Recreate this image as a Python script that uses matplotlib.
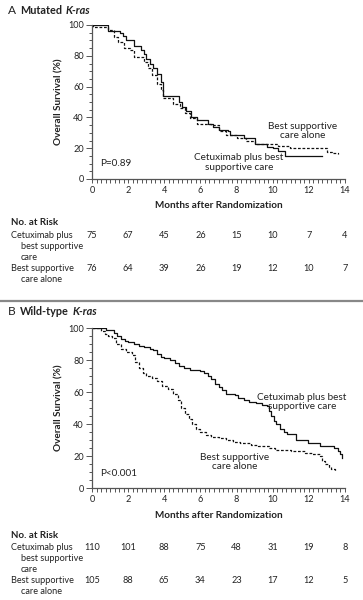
import numpy as np
import matplotlib as mpl
mpl.use('agg')
import matplotlib.pyplot as plt
from matplotlib.ticker import MultipleLocator

plt.rcParams['font.family'] = ['Lato', 'DejaVu Sans']

W, H = 363, 600

# panel A: mutated K-ras (Kaplan-Meier steps)
a_cet_t = [0, 0.9, 1.55, 1.7, 1.9, 2.3, 2.7, 2.85, 3.0, 3.2, 3.4, 3.6, 3.8, 3.95, 4.8, 5.0, 5.2, 5.5, 5.8, 6.4, 6.7, 7.0, 7.5, 7.65, 8.4, 9.0, 9.7, 10.0, 10.3, 10.7, 12.7]
a_cet_s = [100, 96, 95, 93, 90, 86.5, 84, 81, 78, 75, 72, 68, 63, 54, 50, 47, 44, 40, 38, 36, 34, 32, 31, 28.5, 26.5, 23, 21, 20, 18, 15, 15]
a_bsc_t = [0, 0.05, 0.9, 1.2, 1.45, 1.75, 2.1, 2.3, 2.85, 3.1, 3.3, 3.6, 3.8, 3.95, 4.5, 4.85, 5.15, 5.45, 5.8, 6.6, 7.0, 7.4, 8.0, 8.5, 9.0, 9.5, 10.3, 10.95, 13.0, 13.3, 13.6]
a_bsc_s = [100, 98.5, 97, 92.5, 89, 85, 84, 79.5, 76, 72, 67.5, 62, 58, 52.5, 49, 46, 43, 39.5, 36, 35, 31, 28.5, 26.5, 25, 23, 22.5, 21.5, 20, 17.8, 17, 16]

# panel B: wild-type K-ras
b_cet_t = [0, 0.8, 1.2, 1.4, 1.6, 1.8, 2.0, 2.3, 2.6, 2.9, 3.2, 3.4, 3.6, 3.8, 4.0, 4.3, 4.6, 4.8, 5.1, 5.4, 6.0, 6.2, 6.4, 6.6, 6.8, 7.0, 7.2, 7.4, 7.9, 8.1, 8.4, 8.7, 9.1, 9.4, 9.7, 9.8, 9.9, 10.05, 10.2, 10.4, 10.6, 10.8, 11.3, 11.95, 12.6, 13.4, 13.6, 13.75, 13.85]
b_cet_s = [100, 99, 97, 95, 93, 92, 91, 90, 89, 88, 87, 86, 84, 82, 81, 80, 78, 76, 75, 74, 73, 72, 70, 68, 65, 63, 61, 59, 58, 56, 55, 54, 53, 52, 51, 48, 45, 42, 40, 37, 35, 34, 30, 28, 26, 25, 23, 21, 19]
b_bsc_t = [0, 0.5, 0.7, 0.9, 1.1, 1.35, 1.6, 1.9, 2.2, 2.4, 2.6, 2.8, 3.0, 3.3, 3.6, 3.9, 4.2, 4.5, 4.75, 4.95, 5.15, 5.35, 5.55, 5.75, 5.95, 6.3, 6.6, 7.0, 7.4, 7.8, 8.2, 8.8, 9.2, 9.8, 10.1, 11.0, 11.8, 12.2, 12.6, 12.7, 12.9, 13.1, 13.25, 13.45]
b_bsc_s = [100, 98, 96, 95, 94, 90, 87, 85, 83, 79, 75, 72, 70, 69, 67, 64, 62, 59, 55, 50, 46, 43, 40, 37, 35, 33, 32, 31, 30, 29, 28, 27, 26, 25, 24, 23, 22, 21, 20, 17, 15, 13, 12, 10]

risk_months = [0, 2, 4, 6, 8, 10, 12, 14]
a_risk_cet = [75, 67, 45, 26, 15, 10, 7, 4]
a_risk_bsc = [76, 64, 39, 26, 19, 12, 10, 7]
b_risk_cet = [110, 101, 88, 75, 48, 31, 19, 8]
b_risk_bsc = [105, 88, 65, 34, 23, 17, 12, 5]

fig = plt.figure(figsize=(W / 100, H / 100), dpi=100)
fig.patch.set_facecolor('white')

FS = 6.6
TXT = '#222222'


def px(x, y):
    return x / W, 1 - y / H


def put(x, y, s, **kw):
    kw.setdefault('fontsize', FS)
    kw.setdefault('color', TXT)
    kw.setdefault('va', 'center')
    return fig.text(*px(x, y), s, **kw)


def title(y, letter, words):
    # y is the bottom of the text boxes
    put(8, y, letter, fontsize=FS + 2, va='bottom')
    t = put(20, y, words, fontweight='bold', fontsize=FS + 1.2, va='bottom')
    # italic gene name right after the plain words
    fig.axes[-1].annotate('K-ras', xy=(1, 0), xycoords=t, xytext=(2.5, 0),
                          textcoords='offset points', fontsize=FS + 1.2,
                          fontweight='bold', fontstyle='italic', color=TXT,
                          va='bottom', annotation_clip=False)


def panel(top, bot, cet_t, cet_s, bsc_t, bsc_s):
    l, r = 92, 345
    ax = fig.add_axes([l / W, 1 - bot / H, (r - l) / W, (bot - top) / H])
    ax.step(cet_t, cet_s, where='post', color='#111111', lw=0.9)
    ax.step(bsc_t, bsc_s, where='post', color='#111111', lw=0.9,
            linestyle=(0, (2.2, 1.4)))
    ax.set_xlim(0, 14)
    ax.set_ylim(0, 100)
    ax.xaxis.set_major_locator(MultipleLocator(2))
    ax.xaxis.set_minor_locator(MultipleLocator(0.25))
    ax.yaxis.set_major_locator(MultipleLocator(20))
    ax.yaxis.set_minor_locator(MultipleLocator(5))
    for s in ['top', 'right']:
        ax.spines[s].set_visible(False)
    for s in ['left', 'bottom']:
        ax.spines[s].set_color('#555555')
        ax.spines[s].set_linewidth(0.9)
        ax.spines[s].set_clip_on(False)
    ax.tick_params(axis='both', which='both', direction='out', color='#555555',
                   labelsize=FS, labelcolor=TXT, width=0.7, pad=2)
    ax.tick_params(axis='x', which='major', length=3)
    ax.tick_params(axis='x', which='minor', length=3)
    ax.tick_params(axis='y', which='major', length=4)
    ax.tick_params(axis='y', which='minor', length=2.5)
    ax.set_ylabel('Overall Survival (%)', fontsize=FS + 0.6, fontweight='bold',
                  color=TXT, labelpad=3)
    return ax


def risk_table(y0, risk_cet, risk_bsc):
    put(11, y0, 'No. at Risk', fontweight='bold', fontsize=FS + 0.4)
    r1 = y0 + 12.5
    r2 = r1 + 33
    put(11, r1, 'Cetuximab plus')
    put(21, r1 + 11, 'best supportive')
    put(21, r1 + 22, 'care')
    put(11, r2, 'Best supportive')
    put(21, r2 + 11, 'care alone')
    for m, n1, n2 in zip(risk_months, risk_cet, risk_bsc):
        x = 92 + m * (345 - 92) / 14
        put(x, r1, str(n1), ha='center')
        put(x, r2, str(n2), ha='center')


# ---- panel A
axA = panel(25, 179, a_cet_t, a_cet_s, a_bsc_t, a_bsc_s)
title(16, 'A', 'Mutated')
put(219, 205, 'Months after Randomization', ha='center', fontweight='bold',
    fontsize=FS + 0.6)
put(100, 164, 'P=0.89', fontsize=FS + 0.6)
put(303, 131, 'Best supportive\ncare alone', ha='center', fontsize=FS + 0.6,
    linespacing=1.05)
put(239, 162.5, 'Cetuximab plus best\nsupportive care', ha='center',
    fontsize=FS + 0.6, linespacing=1.05)
risk_table(223, a_risk_cet, a_risk_bsc)

# separator
fig.add_artist(plt.Line2D([0, 1], [1 - 301 / H] * 2, color='#888888', lw=1.6,
                          transform=fig.transFigure))

# ---- panel B
axB = panel(328, 488, b_cet_t, b_cet_s, b_bsc_t, b_bsc_s)
title(317, 'B', 'Wild-type')
put(219, 516, 'Months after Randomization', ha='center', fontweight='bold',
    fontsize=FS + 0.6)
put(100, 473, 'P<0.001', fontsize=FS + 0.6)
put(302, 402, 'Cetuximab plus best\nsupportive care', ha='center',
    fontsize=FS + 0.6, linespacing=1.05)
put(235, 462, 'Best supportive\ncare alone', ha='center', fontsize=FS + 0.6,
    linespacing=1.05)
risk_table(535, b_risk_cet, b_risk_bsc)

plt.savefig('out.png', dpi=100, facecolor='white')
